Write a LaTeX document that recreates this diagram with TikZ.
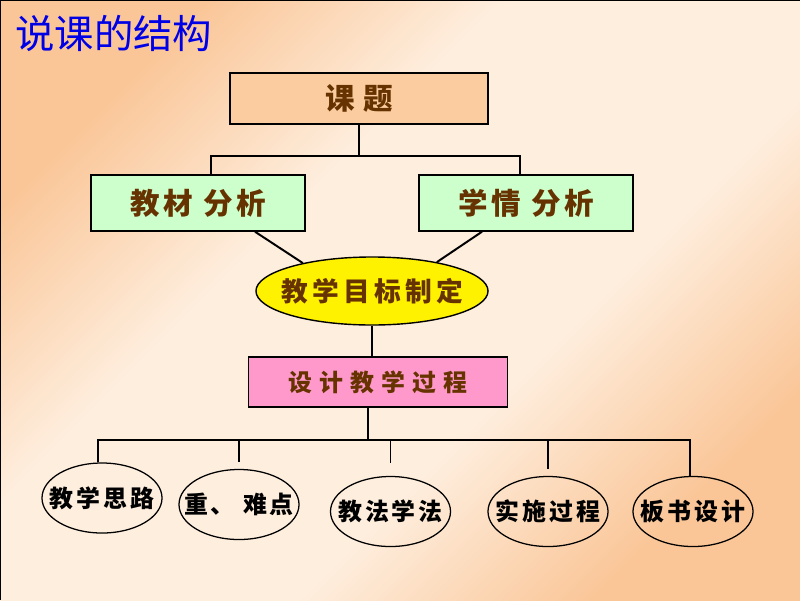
\documentclass[tikz,border=0pt]{standalone}
\usepackage{fontspec}
\setmainfont{Noto Sans CJK SC}
\usetikzlibrary{shapes.geometric}
\definecolor{bgorange}{RGB}{250,198,152}
\definecolor{bglight}{RGB}{254,238,222}
\definecolor{topicfill}{RGB}{250,204,160}
\definecolor{greenfill}{RGB}{204,255,204}
\definecolor{pinkfill}{RGB}{255,153,204}
\definecolor{brown}{RGB}{102,51,0}
\definecolor{titleblue}{RGB}{0,0,230}
\pgfdeclareverticalshading{slidebg}{100bp}{color(0bp)=(bgorange); color(25bp)=(bgorange); color(40bp)=(bglight); color(60bp)=(bglight); color(75bp)=(bgorange); color(100bp)=(bgorange)}

\begin{document}
\begin{tikzpicture}[x=0.025cm, y=-0.025cm,
  box/.style = {draw, line width=1pt, inner sep=0pt, text=brown},
  oval/.style = {draw, ellipse, line width=0.9pt, inner xsep=-14pt, inner ysep=0pt, minimum width=3cm, minimum height=1.75cm,
    font=\bfseries\fontsize{17}{19}\selectfont\addfontfeature{LetterSpace=12}},
  link/.style = {line width=1.4pt}]
\useasboundingbox (0,0) rectangle (800,600);
\shade[shading=slidebg, shading angle=45] (0,0) rectangle (800,600);
\draw[line width=1.5pt] (0,600) -- (0,0) -- (800,0);

\node[anchor=west, inner sep=0pt, text=titleblue, font=\fontsize{28}{32}\selectfont] (title) at (15,33) {说课的结构};

\node[box, fill=topicfill, minimum width=6.45cm, minimum height=1.275cm,
  font=\bfseries\fontsize{21}{24}\selectfont\addfontfeature{LetterSpace=30}] (topic) at (359,98.5) {课题};
\node[box, fill=greenfill, minimum width=5.35cm, minimum height=1.4cm,
  font=\bfseries\fontsize{21}{24}\selectfont\addfontfeature{LetterSpace=12}] (material) at (198,203) {教材 分析};
\node[box, fill=greenfill, minimum width=5.35cm, minimum height=1.4cm,
  font=\bfseries\fontsize{21}{24}\selectfont\addfontfeature{LetterSpace=12}] (situation) at (526,203) {学情 分析};
\node[draw, ellipse, fill=yellow, line width=1pt, inner xsep=-20pt, inner ysep=0pt, text=brown, minimum width=5.8cm, minimum height=1.7cm,
  font=\bfseries\fontsize{19}{22}\selectfont\addfontfeature{LetterSpace=16}] (goal) at (372,291) {教学目标制定};
\node[box, fill=pinkfill, minimum width=6.475cm, minimum height=1.25cm,
  font=\bfseries\fontsize{17}{20}\selectfont\addfontfeature{LetterSpace=30}] (design) at (378,382) {设计教学过程};

\node[oval] (idea) at (102,498) {教学思路};
\node[oval] (focus) at (239,504.5) {重、 难点};
\node[oval] (method) at (390.5,511.5) {教法学法};
\node[oval] (process) at (548,511.5) {实施过程};
\node[oval] (board) at (693,511.5) {板书设计};

\draw[link] (topic.south) -- ++(0,31) coordinate (hub);
\draw[link] ([xshift=0.325cm]material.north) |- (hub) -| ([xshift=-0.15cm]situation.north);
\draw[link] ([xshift=1.425cm]material.south) -- (goal.158);
\draw[link] ([xshift=-1.1cm]situation.south) -- (goal.24);
\draw[link] (goal.south) -- (goal.south |- design.north);
\draw[link] ([xshift=-0.25cm]design.south) -- ++(0,32) coordinate (bus);
\draw[link] ([xshift=-0.1cm]idea.north) |- (bus) -| ([xshift=-0.075cm]board.north);
\draw[link, shorten >=0.175cm] (bus -| focus.north) -- (focus.north);
\draw[link, shorten >=0.325cm] (bus -| method.north) -- (method.north);
\draw[link, shorten >=0.175cm] (bus -| process.north) -- (process.north);
\end{tikzpicture}
\end{document}
